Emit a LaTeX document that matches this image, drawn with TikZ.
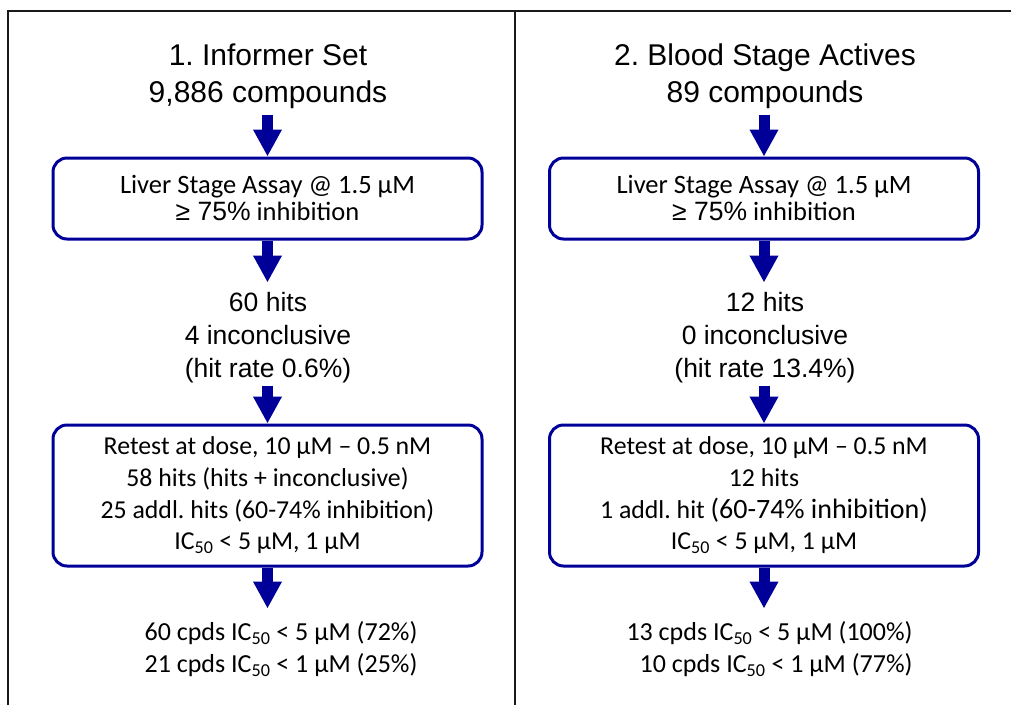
\documentclass[tikz,border=0pt]{standalone}
\usepackage{fontspec}
\setmainfont{Carlito}
\newfontfamily\arialf{Liberation Sans}
\usetikzlibrary{arrows.meta}
\definecolor{navy}{RGB}{0,0,153}
\frenchspacing
\begin{document}
\begin{tikzpicture}[x=1pt,y=-1pt,
  frame/.style={line width=2pt,draw=black!90},
  hdr/.style={align=center,inner sep=0pt,font=\arialf\fontsize{30}{37}\selectfont},
  mid/.style={align=center,inner sep=0pt,font=\arialf\fontsize{26.5}{33}\selectfont},
  flowbox/.style={draw=navy,line width=3pt,rounded corners=14pt,minimum width=429pt,align=center,inner sep=0pt},
  res/.style={inner sep=0pt,font=\fontsize{26}{32}\selectfont},
  arr/.style={draw=navy,line width=11pt,-{Triangle[width=27pt,length=27pt]}}
]
\useasboundingbox (0,0) rectangle (1011,705);
% frame
\draw[frame] (8,705) -- (8,11) -- (1011,11);
\draw[frame] (515,11) -- (515,705);

% left column
\node[hdr] (hL) at (268,76) {1. Informer Set\\9,886 compounds};
\node[flowbox,minimum height=81pt,font=\fontsize{26.5}{27}\selectfont] (aL) at (267.5,198.5)
  {Liver Stage Assay @ 1.5 µM\\{\arialf ≥ 75\%} inhibition};
\node[mid] (mL) at (268,338) {60 hits\\4 inconclusive\\(hit rate 0.6\%)};
\node[flowbox,minimum height=141pt,font=\fontsize{25.8}{31.7}\selectfont] (bL) at (267.5,495.5)
  {Retest at dose, 10 µM – 0.5 nM\\58 hits (hits + inconclusive)\\25 addl. hits (60-74\% inhibition)\\IC\textsubscript{50} < 5 µM, 1 µM};
\node[res,align=center] (rL) at (281,649)
  {60 cpds IC\textsubscript{50} < 5 µM (72\%)\\21 cpds IC\textsubscript{50} < 1 µM (25\%)};

\draw[arr] ([yshift=42pt]aL.north) -- (aL.north);
\draw[arr] (aL.south) -- ([yshift=-42pt]aL.south);
\draw[arr] ([yshift=38pt]bL.north) -- (bL.north);
\draw[arr] (bL.south) -- ([yshift=-41pt]bL.south);

% right column
\node[hdr] (hR) at (765,76) {2. Blood Stage Actives\\89 compounds};
\node[flowbox,minimum height=81pt,font=\fontsize{26.5}{27}\selectfont] (aR) at (764,198.5)
  {Liver Stage Assay @ 1.5 µM\\{\arialf ≥ 75\%} inhibition};
\node[mid] (mR) at (765,338) {12 hits\\0 inconclusive\\(hit rate 13.4\%)};
\node[flowbox,minimum height=141pt,font=\fontsize{25.8}{31.7}\selectfont] (bR) at (764,495.5)
  {Retest at dose, 10 µM – 0.5 nM\\12 hits\\1 addl. hit {\fontsize{28}{31.7}\selectfont (60-74\% inhibition)}\\IC\textsubscript{50} < 5 µM, 1 µM};
\node[res,align=right] (rR) at (769.5,649)
  {13 cpds IC\textsubscript{50} < 5 µM (100\%)\\10 cpds IC\textsubscript{50} < 1 µM (77\%)};

\draw[arr] ([yshift=42pt]aR.north) -- (aR.north);
\draw[arr] (aR.south) -- ([yshift=-42pt]aR.south);
\draw[arr] ([yshift=38pt]bR.north) -- (bR.north);
\draw[arr] (bR.south) -- ([yshift=-41pt]bR.south);
\end{tikzpicture}
\end{document}
